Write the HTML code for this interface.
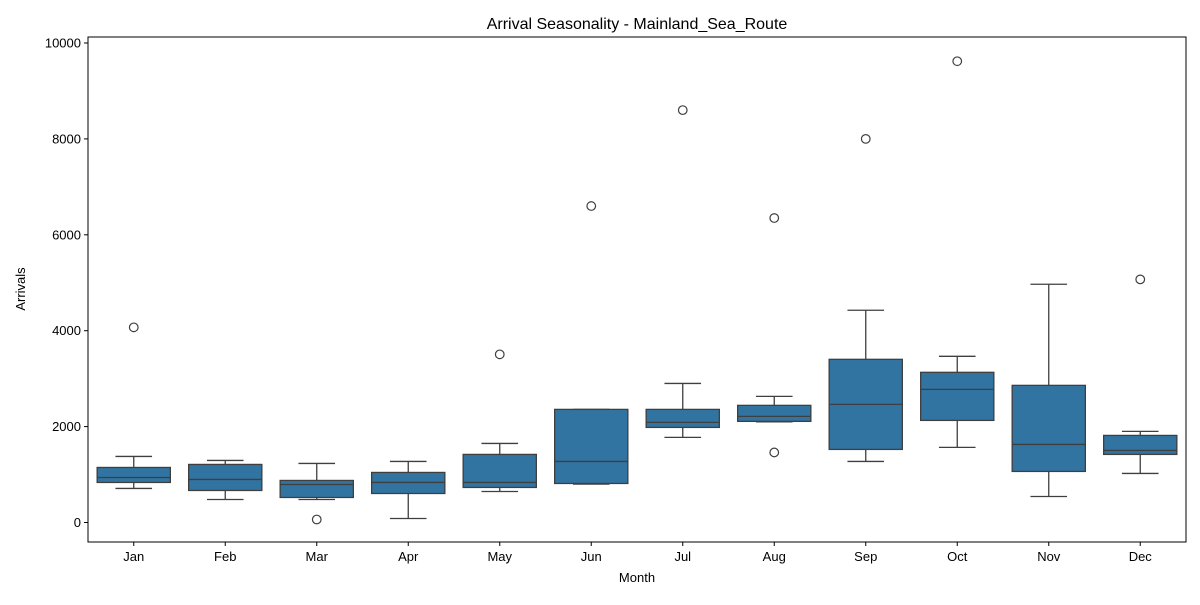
<!DOCTYPE html>
<html><head><meta charset="utf-8"><style>
body{margin:0;background:#fff;font-family:"Liberation Sans","DejaVu Sans",sans-serif;}
svg text{font-family:"Liberation Sans","DejaVu Sans",sans-serif;}
</style></head><body>
<svg id="chart" width="1200" height="600" xmlns="http://www.w3.org/2000/svg">
<rect width="1200" height="600" fill="#fff"/>
<text x="637" y="29" text-anchor="middle" font-size="16">Arrival Seasonality - Mainland_Sea_Route</text>
<g id="marks"></g>
<rect x="88" y="37" width="1098" height="505" fill="none" stroke="#000" stroke-width="1"/>
<text x="637" y="582" text-anchor="middle" font-size="13">Month</text>
<text transform="translate(25,289) rotate(-90)" text-anchor="middle" font-size="13">Arrivals</text>
</svg>
<script>
const months=["Jan","Feb","Mar","Apr","May","Jun","Jul","Aug","Sep","Oct","Nov","Dec"];
const whiskerLow=[710,480,480,84,647,800,1775,2100,1273,1566,543,1023];
const q1=[835,668,522,605,731,814,1983,2109,1524,2129,1065,1420];
const medians=[939,898,793,835,835,1273,2088,2213,2463,2777,1628,1503];
const q3=[1148,1211,877,1044,1420,2359,2359,2443,3403,3132,2860,1816];
const whiskerHigh=[1378,1294,1232,1273,1649,2359,2900,2630,4426,3466,4969,1900];
const outliers=[[4070],[],[63],[],[3507],[6600],[8600],[6350,1461],[8000],[9620],[],[5070]];
const yTicks=[0,2000,4000,6000,8000,10000];

const L=88,R=1186,T=37,B=542;
const y0=522.5,y1=43;
function yS(v){return y0-(v/10000)*(y0-y1);}
const step=(R-L)/months.length;
function xS(i){return L+step*(i+0.5);}
const NS="http://www.w3.org/2000/svg";
const g=document.getElementById('marks');
const svg=document.getElementById('chart');
function mk(tag,attrs,parent){const e=document.createElementNS(NS,tag);for(const k in attrs)e.setAttribute(k,attrs[k]);(parent||g).appendChild(e);return e;}

yTicks.forEach(t=>{
  const y=yS(t);
  const tk=mk('line',{x1:L-4,x2:L,y1:y,y2:y,stroke:'#000'},svg);
  
  
  const tx=mk('text',{x:L-7,y:y+4.5,'text-anchor':'end','font-size':'13'},svg);
  tx.textContent=t;
  
  
});
months.forEach((m,i)=>{
  const x=xS(i);
  const tk=mk('line',{x1:x,x2:x,y1:B,y2:B+4,stroke:'#000'},svg);
  
  
  const tx=mk('text',{x:x,y:B+19,'text-anchor':'middle','font-size':'13'},svg);
  tx.textContent=m;
  
  

  const bw=step*0.8, cw=bw/2;
  const grp=mk('g',{});
  
  
  const c='#3f3f3f';
  mk('line',{x1:x,x2:x,y1:yS(whiskerHigh[i]),y2:yS(q3[i]),stroke:c,'stroke-width':1.3},grp);
  mk('line',{x1:x,x2:x,y1:yS(q1[i]),y2:yS(whiskerLow[i]),stroke:c,'stroke-width':1.3},grp);
  mk('line',{x1:x-cw/2,x2:x+cw/2,y1:yS(whiskerHigh[i]),y2:yS(whiskerHigh[i]),stroke:c,'stroke-width':1.3},grp);
  mk('line',{x1:x-cw/2,x2:x+cw/2,y1:yS(whiskerLow[i]),y2:yS(whiskerLow[i]),stroke:c,'stroke-width':1.3},grp);
  mk('rect',{x:x-bw/2,y:yS(q3[i]),width:bw,height:yS(q1[i])-yS(q3[i]),fill:'#3274a1',stroke:c,'stroke-width':1.3},grp);
  mk('line',{x1:x-bw/2,x2:x+bw/2,y1:yS(medians[i]),y2:yS(medians[i]),stroke:c,'stroke-width':1.3},grp);
  outliers[i].forEach(v=>{
    const o=mk('circle',{cx:x,cy:yS(v),r:4.3,fill:'none',stroke:c,'stroke-width':1.2},grp);
    
    
  });
});
</script>
</body></html>
